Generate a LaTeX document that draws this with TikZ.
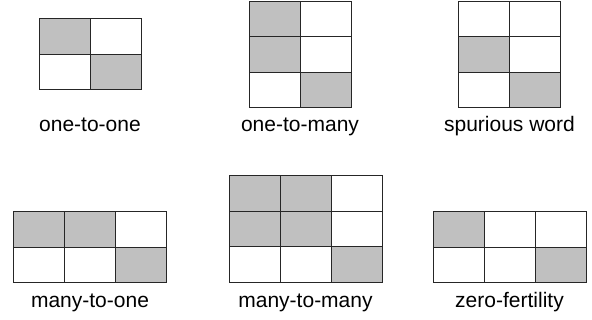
\documentclass[tikz,border=0pt]{standalone}
\usepackage{fontspec}
\setmainfont{Liberation Sans}
\definecolor{shade}{HTML}{C0C0C0}
\begin{document}
\begin{tikzpicture}[x=1pt,y=1pt,
  cell/.style={draw=black!85, line width=1pt, minimum width=51pt, minimum height=35.5pt, inner sep=0pt, outer sep=0pt, fill=white},
  on/.style={cell, fill=shade},
  lab/.style={font=\fontsize{21}{25}\selectfont, anchor=base, inner sep=0pt}]
\useasboundingbox (0,0) rectangle (592,320);
% one-to-one
\foreach \c/\r/\s in {1/1/on,2/1/cell,1/2/cell,2/2/on}
  \node[\s] (a\c\r) at ({39+51*(\c-0.5)},{301-35.5*(\r-0.5)}) {};
\node[lab] (la) at (90,188) {one-to-one};
% one-to-many
\foreach \c/\r/\s in {1/1/on,2/1/cell,1/2/on,2/2/cell,1/3/cell,2/3/on}
  \node[\s] (b\c\r) at ({249+51*(\c-0.5)},{318.5-35.5*(\r-0.5)}) {};
\node[lab] (lb) at (300,188) {one-to-many};
% spurious word
\foreach \c/\r/\s in {1/1/cell,2/1/cell,1/2/on,2/2/cell,1/3/cell,2/3/on}
  \node[\s] (c\c\r) at ({458+51*(\c-0.5)},{318.5-35.5*(\r-0.5)}) {};
\node[lab] (lc) at (509.5,188) {spurious word};
% many-to-one
\foreach \c/\r/\s in {1/1/on,2/1/on,3/1/cell,1/2/cell,2/2/cell,3/2/on}
  \node[\s] (d\c\r) at ({13+51*(\c-0.5)},{108-35.5*(\r-0.5)}) {};
\node[lab] (ld) at (90,12) {many-to-one};
% many-to-many
\foreach \c/\r/\s in {1/1/on,2/1/on,3/1/cell,1/2/on,2/2/on,3/2/cell,1/3/cell,2/3/cell,3/3/on}
  \node[\s] (e\c\r) at ({229+51*(\c-0.5)},{144-35.5*(\r-0.5)}) {};
\node[lab] (le) at (305.5,12) {many-to-many};
% zero-fertility
\foreach \c/\r/\s in {1/1/on,2/1/cell,3/1/cell,1/2/cell,2/2/cell,3/2/on}
  \node[\s] (f\c\r) at ({433+51*(\c-0.5)},{108-35.5*(\r-0.5)}) {};
\node[lab] (lf) at (509.5,12) {zero-fertility};
\end{tikzpicture}
\end{document}
